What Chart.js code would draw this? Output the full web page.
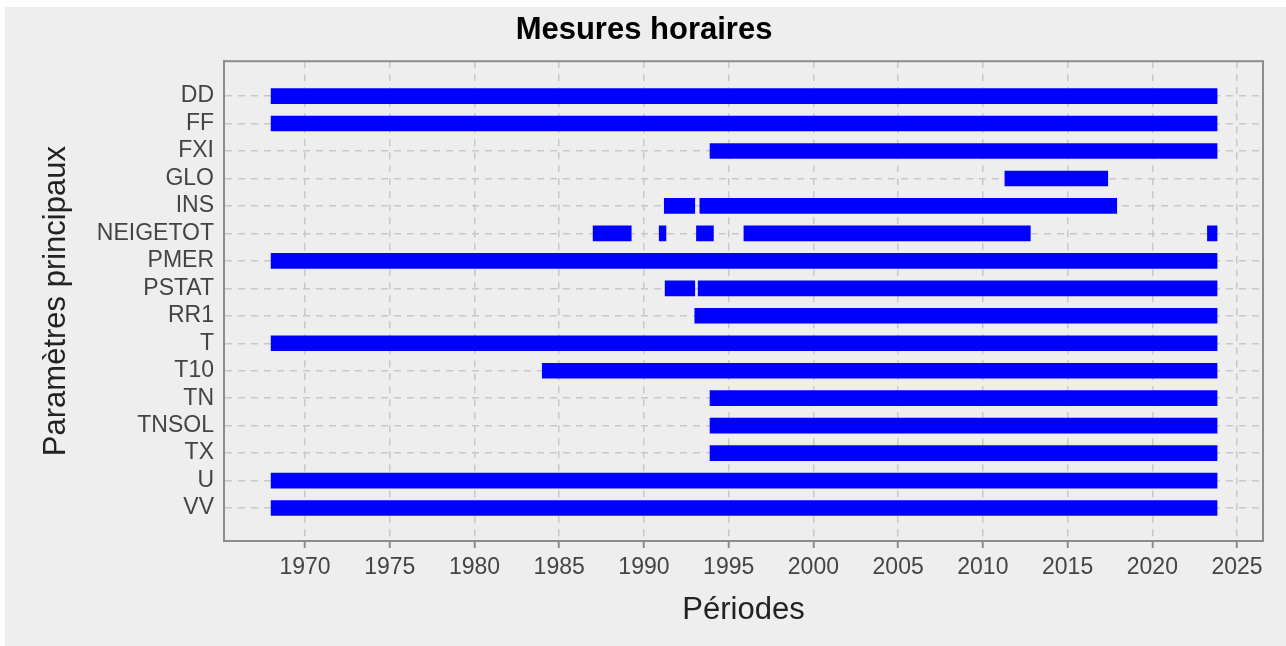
<!DOCTYPE html>
<html>
<head>
<meta charset="utf-8">
<script src="https://cdn.jsdelivr.net/npm/chart.js@4/dist/chart.umd.min.js"></script>
<style>
  body { margin: 0; background: #ffffff; }
  #wrap { position: absolute; left: 5px; top: 7px; width: 1281px; height: 639px; background: #eeeeee; }
</style>
</head>
<body>
<div id="wrap"><canvas id="chart" width="1281" height="639"></canvas></div>
<script>
// Parameters (rows, top to bottom)
const params = ["DD", "FF", "FXI", "GLO", "INS", "NEIGETOT", "PMER", "PSTAT", "RR1", "T", "T10", "TN", "TNSOL", "TX", "U", "VV"];

// Measurement periods: row index, start year, end year (decimal years)
const segRow   = [0,      1,      2,      3,      4,      4,      5,      5,      5,      5,      5,       6,      7,       7,      8,      9,      10,     11,     12,     13,     14,     15];
const segStart = [1968.0, 1968.0, 1993.9, 2011.3, 1991.2, 1993.3, 1987.0, 1990.9, 1993.1, 1995.9, 2023.25, 1968.0, 1991.25, 1993.2, 1993.0, 1968.0, 1984.0, 1993.9, 1993.9, 1993.9, 1968.0, 1968.0];
const segEnd   = [2023.82, 2023.82, 2023.82, 2017.37, 1993.0, 2017.9, 1989.25, 1991.3, 1994.1, 2012.8, 2023.82, 2023.82, 1993.0, 2023.82, 2023.82, 2023.82, 2023.82, 2023.82, 2023.82, 2023.82, 2023.82, 2023.82];

// X axis ticks (years)
const yearTicks = [1970, 1975, 1980, 1985, 1990, 1995, 2000, 2005, 2010, 2015, 2020, 2025];

const segments = segRow.map((r, i) => ({ x: [segStart[i], segEnd[i]], y: r }));

// draw the plot frame (top and right sides too)
const frame = {
  id: "frame",
  afterDraw(chart) {
    const { ctx, chartArea: a } = chart;
    ctx.save();
    ctx.strokeStyle = "#8c8c8c";
    ctx.lineWidth = 2;
    ctx.strokeRect(a.left, a.top, a.right - a.left, a.bottom - a.top);
    ctx.restore();
  }
};

const fontFam = "'Liberation Sans', Arial, sans-serif";

new Chart(document.getElementById("chart"), {
  type: "bar",
  data: {
    datasets: [{
      data: segments,
      backgroundColor: "#0000ff",
      borderWidth: 0,
      barThickness: 15
    }]
  },
  plugins: [frame],
  options: {
    indexAxis: "y",
    responsive: false,
    animation: false,
    layout: { padding: { left: 20, right: 23, top: 0, bottom: 15 } },
    plugins: {
      legend: { display: false },
      tooltip: { enabled: false },
      title: {
        display: true,
        text: "Mesures horaires",
        color: "#000000",
        font: { family: fontFam, size: 31, weight: "bold", lineHeight: 1.2 },
        padding: { top: 5, bottom: 12 }
      }
    },
    scales: {
      x: {
        type: "linear",
        min: 1965.22,
        max: 2026.53,
        afterBuildTicks: axis => { axis.ticks = yearTicks.map(v => ({ value: v })); },
        afterFit: scale => { scale.height = 90; },
        ticks: {
          color: "#444444",
          font: { family: fontFam, size: 23 },
          padding: 6,
          maxRotation: 0,
          callback: v => String(v)
        },
        grid: {
          color: "#c8c8c8",
          lineWidth: 1.5,
          tickLength: 7,
          tickColor: "#8c8c8c",
          tickWidth: 2
        },
        border: { display: true, color: "#8c8c8c", width: 2, dash: [7, 6] },
        title: {
          display: true,
          text: "Périodes",
          color: "#222222",
          font: { family: fontFam, size: 31, lineHeight: 1.2 },
          padding: { top: 0, bottom: 2 }
        }
      },
      y: {
        type: "linear",
        reverse: true,
        offset: false,
        min: -1.27,
        max: 16.2,
        afterBuildTicks: axis => { axis.ticks = params.map((p, i) => ({ value: i })); },
        afterFit: scale => { scale.width = 199; },
        ticks: {
          color: "#444444",
          font: { family: fontFam, size: 23 },
          padding: 10,
          callback: v => params[v]
        },
        grid: {
          color: "#c8c8c8",
          lineWidth: 1.5,
          offset: false,
          drawTicks: false
        },
        border: { display: true, color: "#8c8c8c", width: 2, dash: [7, 6] },
        title: {
          display: true,
          text: "Paramètres principaux",
          color: "#222222",
          font: { family: fontFam, size: 31, lineHeight: 1.2 },
          padding: { top: 13, bottom: 0 }
        }
      }
    }
  }
});
</script>
</body>
</html>
